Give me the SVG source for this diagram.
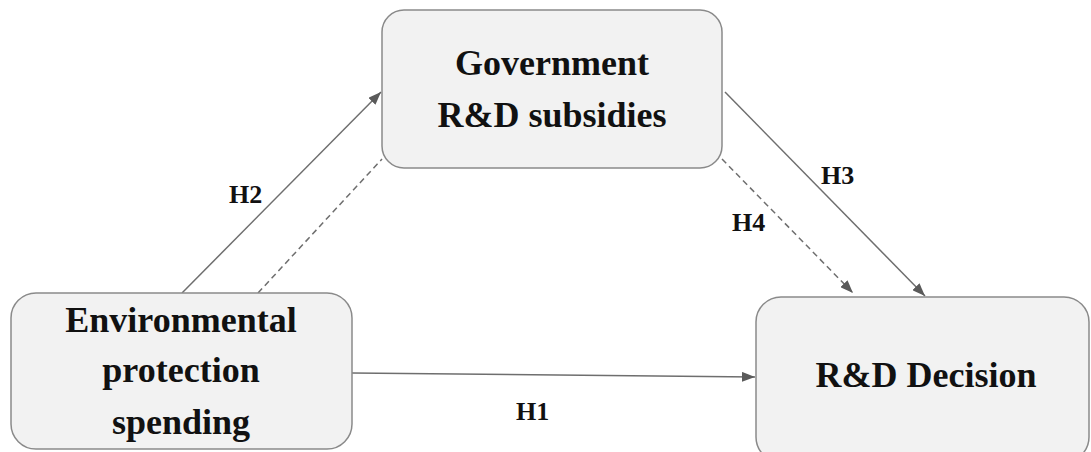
<svg xmlns="http://www.w3.org/2000/svg" width="1091" height="452" viewBox="0 0 1091 452">
<style>
.box{fill:#f2f2f2;stroke:#8a8a8a;stroke-width:1.5}
.nt{font-family:"Liberation Serif","Times New Roman",serif;font-weight:bold;font-size:36px;fill:#111;text-anchor:middle}
.lb{font-family:"Liberation Serif","Times New Roman",serif;font-weight:bold;font-size:26px;fill:#111}
.ln{stroke:#6e6e6e;stroke-width:1.5;fill:none}
.ds{stroke-dasharray:6,4}
</style>
<defs>
<marker id="ah" markerUnits="userSpaceOnUse" markerWidth="14" markerHeight="10" refX="13" refY="5" orient="auto">
<path d="M0,0 L13,5 L0,10 z" fill="#5a5a5a"/>
</marker>
</defs>
<g id="connectors">
<line class="ln" x1="182" y1="293" x2="381" y2="92" marker-end="url(#ah)"/>
<line class="ln ds" x1="258" y1="293" x2="382" y2="159"/>
<line class="ln" x1="725" y1="92" x2="925" y2="296" marker-end="url(#ah)"/>
<line class="ln ds" x1="722" y1="159" x2="853" y2="293" marker-end="url(#ah)"/>
<line class="ln" x1="352" y1="373" x2="755" y2="377" marker-end="url(#ah)"/>
<text class="lb" x="229" y="203">H2</text>
<text class="lb" x="821" y="184">H3</text>
<text class="lb" x="732" y="231">H4</text>
<text class="lb" x="516" y="420">H1</text>
</g>
<g id="gov">
<rect class="box" x="382" y="10" width="340" height="158" rx="22"/>
<text class="nt" x="552" y="75">Government</text>
<text class="nt" x="552" y="127">R&amp;D subsidies</text>
</g>
<g id="env">
<rect class="box" x="11" y="293" width="341" height="156" rx="25"/>
<text class="nt" x="181" y="332">Environmental</text>
<text class="nt" x="181" y="382">protection</text>
<text class="nt" x="181" y="434">spending</text>
</g>
<g id="rd">
<rect class="box" x="756" y="297" width="333" height="165" rx="25"/>
<text class="nt" x="926" y="387">R&amp;D Decision</text>
</g>
</svg>
